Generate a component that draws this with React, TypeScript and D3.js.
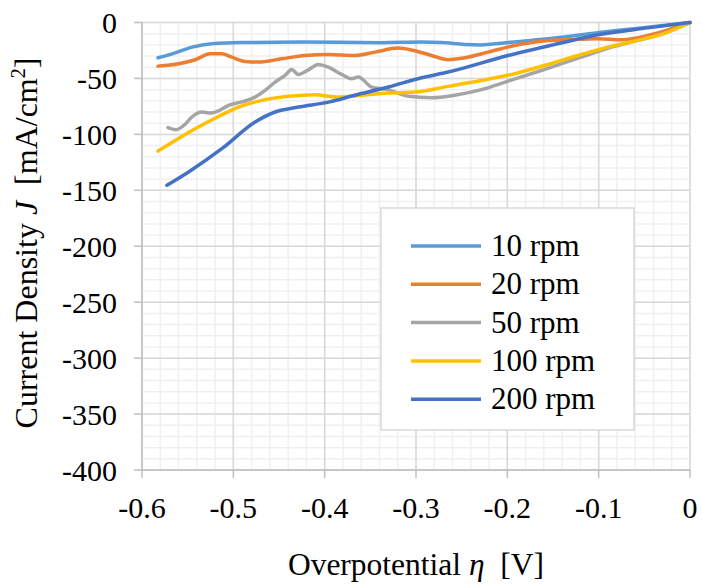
import React from 'react';
import * as d3 from 'd3';

// overpotential (V) and current density (mA/cm2)
const rpm10X = [-0.5825, -0.567, -0.545, -0.5235, -0.491, -0.425, -0.338, -0.294, -0.272, -0.247, -0.228, -0.2066, -0.174, -0.138, -0.097, -0.0536, 0];
const rpm10Y = [-31.5, -28, -22, -19, -17.9, -17.5, -18, -17.5, -17.9, -19.6, -20, -18.5, -16, -13, -8.6, -4.8, 0];

const rpm20X = [-0.5825, -0.56, -0.5418, -0.5253, -0.5126, -0.5016, -0.487, -0.4725, -0.447, -0.4215, -0.396, -0.367, -0.345, -0.3195, -0.305, -0.283, -0.2648, -0.2467, -0.2211, -0.192, -0.1628, -0.1337, -0.101, -0.0754, -0.046, 0];
const rpm20Y = [-39, -36.9, -33.3, -28, -28, -31, -34.8, -35.4, -32.4, -29.5, -28.6, -29.5, -26.5, -22.9, -24.5, -29.5, -33.3, -31.5, -26.5, -20.5, -16.7, -15.5, -14.6, -15.5, -11.6, 0];

const rpm50X = [-0.5716, -0.563, -0.5527, -0.5454, -0.5344, -0.525, -0.5162, -0.5052, -0.4907, -0.4762, -0.4652, -0.4543, -0.4434, -0.4361, -0.4287, -0.4178, -0.4069, -0.396, -0.3814, -0.3705, -0.3632, -0.3486, -0.3304, -0.3085, -0.283, -0.2576, -0.2284, -0.1992, -0.1628, -0.119, -0.0827, -0.0608, -0.028, 0];
const rpm50Y = [-94, -95.8, -91, -84.5, -80, -81, -79, -74, -71, -66.7, -60.7, -53.3, -47.3, -42, -46.4, -42.3, -37.5, -39.9, -46.4, -50.3, -48.8, -57.7, -60, -66, -67.2, -65, -60, -52.4, -42.9, -31, -21.4, -16.7, -9.5, 0];

const rpm100X = [-0.5825, -0.5636, -0.5418, -0.5162, -0.4943, -0.4689, -0.4397, -0.4106, -0.385, -0.3596, -0.3304, -0.3013, -0.2648, -0.2284, -0.192, -0.1555, -0.119, -0.0827, -0.0608, -0.028, 0];
const rpm100Y = [-114.9, -105.4, -95, -84, -75.6, -69.6, -66, -64.6, -66.7, -65, -63.1, -62.2, -57.1, -51.8, -45.8, -37.5, -28.6, -20.5, -16.7, -9.8, 0];

const rpm200X = [-0.5727, -0.549, -0.5126, -0.4762, -0.4543, -0.4287, -0.396, -0.367, -0.3304, -0.294, -0.2648, -0.1992, -0.1377, -0.101, -0.0462, 0];
const rpm200Y = [-145.5, -133.6, -112.8, -89, -80, -75.6, -71.2, -65, -57.7, -49.4, -44.3, -29.5, -17.6, -11, -4.8, 0];

const seriesNames = ['10 rpm', '20 rpm', '50 rpm', '100 rpm', '200 rpm'];
const seriesColors = ['#5B9BD5', '#ED7D31', '#A5A5A5', '#FFC000', '#4472C4'];
const xTicks = [-0.6, -0.5, -0.4, -0.3, -0.2, -0.1, 0];
const yTicks = [0, -50, -100, -150, -200, -250, -300, -350, -400];

const W = 702;
const H = 586;
const left = 142;
const right = 690;
const top = 22.5;
const bottom = 470;
const font = 'Liberation Serif, Times New Roman, serif';
const fs = 30;

export default function App() {
  const x = d3.scaleLinear().domain([-0.6, 0]).range([left, right]);
  const y = d3.scaleLinear().domain([-400, 0]).range([bottom, top]);

  const allX = [rpm10X, rpm20X, rpm50X, rpm100X, rpm200X];
  const allY = [rpm10Y, rpm20Y, rpm50Y, rpm100Y, rpm200Y];
  const series = seriesNames.map((name, i) => ({
    name,
    color: seriesColors[i],
    points: allX[i].map((v, j) => [v, allY[i][j]] as [number, number]),
  }));

  const line = d3.line<[number, number]>()
    .x(d => x(d[0]))
    .y(d => y(d[1]))
    .curve(d3.curveMonotoneX);

  const minorX = d3.range(-0.6, 0.0001, 0.02);
  const minorY = d3.range(-400, 0.0001, 10);

  const legendX = 381;
  const legendY = 208;
  const txt = { fontFamily: font };

  return (
    <svg width={W} height={H} style={{ position: 'absolute', left: 0, top: 0 }}>
      <rect width={W} height={H} fill="#fff" />
      {/* minor grid */}
      {minorX.map((v, i) => (
        <line key={'mx' + i} x1={x(v)} x2={x(v)} y1={top} y2={bottom} stroke="#f0f0f0" strokeWidth={1.5} />
      ))}
      {minorY.map((v, i) => (
        <line key={'my' + i} x1={left} x2={right} y1={y(v)} y2={y(v)} stroke="#f0f0f0" strokeWidth={1.5} />
      ))}
      {/* major grid */}
      {xTicks.map(v => (
        <line key={'gx' + v} x1={x(v)} x2={x(v)} y1={top} y2={bottom} stroke="#d9d9d9" strokeWidth={1.5} />
      ))}
      {yTicks.map(v => (
        <line key={'gy' + v} x1={left} x2={right} y1={y(v)} y2={y(v)} stroke="#d9d9d9" strokeWidth={1.5} />
      ))}
      {/* axes */}
      <line x1={left} x2={left} y1={top} y2={bottom} stroke="#bfbfbf" strokeWidth={1.5} />
      <line x1={left} x2={right} y1={bottom} y2={bottom} stroke="#bfbfbf" strokeWidth={1.5} />
      {yTicks.map(v => (
        <g key={'ty' + v}>
          <line x1={left - 8} x2={left} y1={y(v)} y2={y(v)} stroke="#bfbfbf" strokeWidth={1.5} />
          <text x={117} y={y(v) + 10.5} textAnchor="end" fontSize={fs} style={txt}>{v}</text>
        </g>
      ))}
      {xTicks.map(v => (
        <g key={'tx' + v}>
          <line x1={x(v)} x2={x(v)} y1={bottom} y2={bottom + 8} stroke="#bfbfbf" strokeWidth={1.5} />
          <text x={x(v)} y={518} textAnchor="middle" fontSize={fs} style={txt}>{v}</text>
        </g>
      ))}
      {/* series */}
      {series.map(s => (
        <path key={s.name} d={line(s.points) || ''} fill="none" stroke={s.color} strokeWidth={3.5} strokeLinejoin="round" strokeLinecap="round" />
      ))}
      {/* legend */}
      <rect x={legendX} y={legendY} width={253} height={222} fill="#fff" stroke="#d9d9d9" strokeWidth={1.5} />
      {series.map((s, i) => (
        <g key={'lg' + s.name} transform={`translate(0, ${legendY + 38 + i * 38.3})`}>
          <line x1={411} x2={481} y1={0} y2={0} stroke={s.color} strokeWidth={3.5} />
          <text x={491} y={10} fontSize={31} style={txt}>{s.name}</text>
        </g>
      ))}
      {/* axis titles */}
      <text x={416} y={575} textAnchor="middle" fontSize={31.5} style={txt}>
        Overpotential <tspan fontStyle="italic">η</tspan>{'\u00a0\u00a0'}[V]
      </text>
      <text transform="translate(37, 243) rotate(-90)" textAnchor="middle" fontSize={32} style={txt}>
        Current Density <tspan fontStyle="italic">J</tspan>{'\u00a0\u00a0'}[mA/cm<tspan fontSize={20} dy={-12}>2</tspan><tspan dy={12}>]</tspan>
      </text>
    </svg>
  );
}
